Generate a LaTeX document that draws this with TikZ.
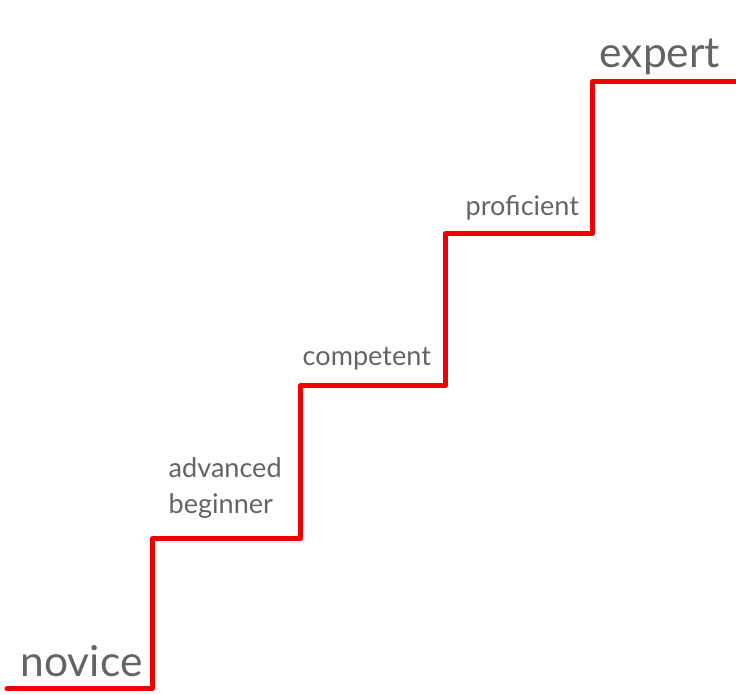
\documentclass[tikz,border=0pt]{standalone}
\usepackage{fontspec}
\usepackage{tikz}
\usepackage{tkz-euclide}
\usepackage{xcolor}
\setmainfont{Lato}
\definecolor{stairred}{RGB}{240,0,0}
\definecolor{labelgray}{RGB}{100,100,100}
\tikzset{
  stair/.style={stairred, line width=0.05cm, line join=round},
  biglbl/.style={labelgray, anchor=base west, inner sep=0pt, font=\fontsize{12.1}{14}\selectfont},
  smalllbl/.style={labelgray, anchor=base west, inner sep=0pt, align=left, font=\fontsize{7.7}{10.5}\selectfont}
}

\begin{document}
\begin{tikzpicture}
    \useasboundingbox (0,0) rectangle (7.36,6.94);
    \tkzDefPoints{0.07/0.05/A, 1.52/0.05/B, 1.52/1.55/C, 3.00/1.55/D, 3.00/3.08/E,
                  4.45/3.08/F, 4.45/4.60/G, 5.92/4.60/H, 5.92/6.12/I, 7.36/6.12/J}
    \tkzDrawPolySeg[stair](A,B,C,D,E,F,G,H,I,J)
    \node[biglbl] (novice) at (0.20,0.17) {novice};
    \node[smalllbl] (advanced) at (1.68,1.80) {advanced\\beginner};
    \node[smalllbl] (competent) at (3.02,3.28) {competent};
    \node[smalllbl] (proficient) at (4.65,4.78) {proficient};
    \node[biglbl] (expert) at (5.99,6.26) {expert};
\end{tikzpicture}
\end{document}
